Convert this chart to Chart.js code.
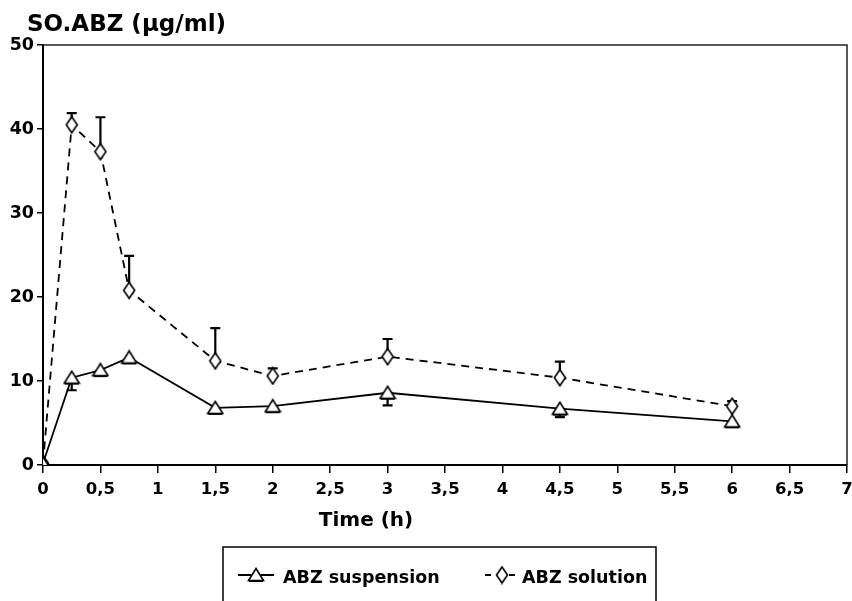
<!DOCTYPE html>
<html>
<head>
  <title>SO.ABZ plasma levels</title>
  <meta charset="utf-8">
  <script src="https://cdn.jsdelivr.net/npm/chart.js"></script>
  <style>
    html, body { margin: 0; padding: 0; background: #fff; }
    canvas { display: block; }
  </style>
</head>
<body>
  <canvas id="myChart" width="852" height="601"></canvas>
  <script>
    // sampling times (h)
    var times = [0, 0.25, 0.5, 0.75, 1.5, 2, 3, 4.5, 6];
    // ABZ suspension: mean and SD (bars drawn downward)
    var suspension = [0.2, 10.4, 11.3, 12.8, 6.8, 7.0, 8.6, 6.7, 5.2];
    var suspensionSd = [0, 1.5, 0.5, 0.5, 0.5, 0.5, 1.5, 1.0, 0.5];
    // ABZ solution: mean and SD (bars drawn upward)
    var solution = [0.2, 40.5, 37.3, 20.8, 12.4, 10.6, 12.9, 10.4, 7.0];
    var solutionSd = [0, 1.4, 4.1, 4.1, 3.9, 0.9, 2.1, 1.9, 0.6];
    var seriesNames = ['ABZ suspension', 'ABZ solution'];
    var yTitle = 'SO.ABZ (µg/ml)';
    var xTitle = 'Time (h)';

    var FONT = '"DejaVu Sans", "Liberation Sans", Arial, sans-serif';

    function makeTriangle() {
      var c = document.createElement('canvas');
      c.width = 18; c.height = 16;
      var g = c.getContext('2d');
      g.fillStyle = '#fff';
      g.strokeStyle = '#000';
      g.lineWidth = 1.6;
      g.beginPath();
      g.moveTo(9, 1.5); g.lineTo(16.5, 13.5); g.lineTo(1.5, 13.5); g.closePath();
      g.fill(); g.stroke();
      g.lineWidth = 2;
      g.beginPath(); g.moveTo(2, 14); g.lineTo(16, 14); g.stroke();
      return c;
    }
    function makeDiamond() {
      var c = document.createElement('canvas');
      c.width = 14; c.height = 19;
      var g = c.getContext('2d');
      g.fillStyle = '#fff';
      g.strokeStyle = '#000';
      g.lineWidth = 1.6;
      g.beginPath();
      g.moveTo(7, 1.5); g.lineTo(12.5, 9.5); g.lineTo(7, 17.5); g.lineTo(1.5, 9.5); g.closePath();
      g.fill(); g.stroke();
      return c;
    }
    var triangleImg = makeTriangle();
    var diamondImg = makeDiamond();

    function toPoints(vals) {
      return vals.map(function (v, i) { return { x: times[i], y: v }; });
    }

    // error bars, drawn before the markers so the markers cover the base of each bar
    var errorBars = {
      id: 'errorBars',
      beforeDatasetsDraw: function (chart) {
        var ctx = chart.ctx, xs = chart.scales.x, ys = chart.scales.y;
        var sets = [[suspension, suspensionSd, -1], [solution, solutionSd, 1]];
        ctx.save();
        ctx.strokeStyle = '#000';
        ctx.lineWidth = 2.2;
        sets.forEach(function (s) {
          s[0].forEach(function (v, i) {
            var sd = s[1][i];
            if (!sd) return;
            var px = xs.getPixelForValue(times[i]);
            var p0 = ys.getPixelForValue(v);
            var p1 = ys.getPixelForValue(v + s[2] * sd);
            ctx.beginPath();
            ctx.moveTo(px, p0); ctx.lineTo(px, p1);
            ctx.moveTo(px - 5, p1); ctx.lineTo(px + 5, p1);
            ctx.stroke();
          });
        });
        ctx.restore();
      }
    };

    // frame, titles and the boxed legend
    var decorations = {
      id: 'decorations',
      afterDraw: function (chart) {
        var ctx = chart.ctx, a = chart.chartArea;
        ctx.save();
        ctx.strokeStyle = '#222';
        ctx.lineWidth = 1.5;
        ctx.beginPath();
        ctx.moveTo(a.left, a.top); ctx.lineTo(a.right, a.top); ctx.lineTo(a.right, a.bottom);
        ctx.stroke();

        ctx.fillStyle = '#000';
        ctx.textBaseline = 'alphabetic';
        ctx.textAlign = 'left';
        ctx.font = 'bold 23px ' + FONT;
        ctx.fillText(yTitle, 27, 31);

        ctx.font = 'bold 20px ' + FONT;
        ctx.textAlign = 'center';
        ctx.fillText(xTitle, 366, 526);

        // legend box (runs off the bottom edge)
        ctx.strokeStyle = '#000';
        ctx.lineWidth = 1.5;
        ctx.beginPath();
        ctx.moveTo(223, 602); ctx.lineTo(223, 547); ctx.lineTo(656, 547); ctx.lineTo(656, 602);
        ctx.stroke();

        var my = 575, ty = 578;
        ctx.lineWidth = 1.8;
        ctx.beginPath(); ctx.moveTo(238, my); ctx.lineTo(274, my); ctx.stroke();
        ctx.drawImage(triangleImg, 256 - 9, my - 8);
        ctx.setLineDash([6, 6]);
        ctx.beginPath(); ctx.moveTo(485, my); ctx.lineTo(520, my); ctx.stroke();
        ctx.setLineDash([]);
        ctx.drawImage(diamondImg, 502 - 7, my - 9.5);

        ctx.font = 'bold 17.5px ' + FONT;
        ctx.textAlign = 'left';
        ctx.textBaseline = 'middle';
        ctx.fillText(seriesNames[0], 283, ty);
        ctx.fillText(seriesNames[1], 522, ty);
        ctx.restore();
      }
    };

    const ctx = document.getElementById('myChart');
    var chart = new Chart(ctx, {
      type: 'line',
      data: {
        datasets: [{
          label: seriesNames[0],
          data: toPoints(suspension),
          borderColor: '#000',
          borderWidth: 1.8,
          pointStyle: triangleImg,
          tension: 0
        }, {
          label: seriesNames[1],
          data: toPoints(solution),
          borderColor: '#000',
          borderWidth: 1.8,
          borderDash: [8, 6],
          pointStyle: diamondImg,
          tension: 0
        }]
      },
      options: {
        responsive: false,
        animation: false,
        events: [],
        layout: { autoPadding: false, padding: { top: 45, right: 5, left: 0, bottom: 0 } },
        plugins: { legend: { display: false }, tooltip: { enabled: false } },
        scales: {
          x: {
            type: 'linear',
            min: 0, max: 7,
            afterFit: function (s) { s.height = 136; s.paddingRight = 0; s.paddingLeft = 0; },
            border: { color: '#000', width: 2 },
            grid: { drawOnChartArea: false, color: '#000', lineWidth: 1.5, tickLength: 8 },
            ticks: {
              stepSize: 0.5,
              color: '#000',
              padding: 7,
              maxRotation: 0,
              autoSkip: false,
              font: { family: FONT, size: 16.5, weight: 'bold' },
              callback: function (v) { return String(v).replace('.', ','); }
            }
          },
          y: {
            min: 0, max: 50,
            afterFit: function (s) { s.width = 43; s.paddingTop = 0; s.paddingBottom = 0; },
            border: { color: '#000', width: 2 },
            grid: { drawOnChartArea: false, color: '#000', lineWidth: 1.5, tickLength: 6 },
            ticks: {
              stepSize: 10,
              color: '#000',
              padding: 3,
              font: { family: FONT, size: 17.5, weight: 'bold' }
            }
          }
        }
      },
      plugins: [errorBars, decorations]
    });
  </script>
</body>
</html>
